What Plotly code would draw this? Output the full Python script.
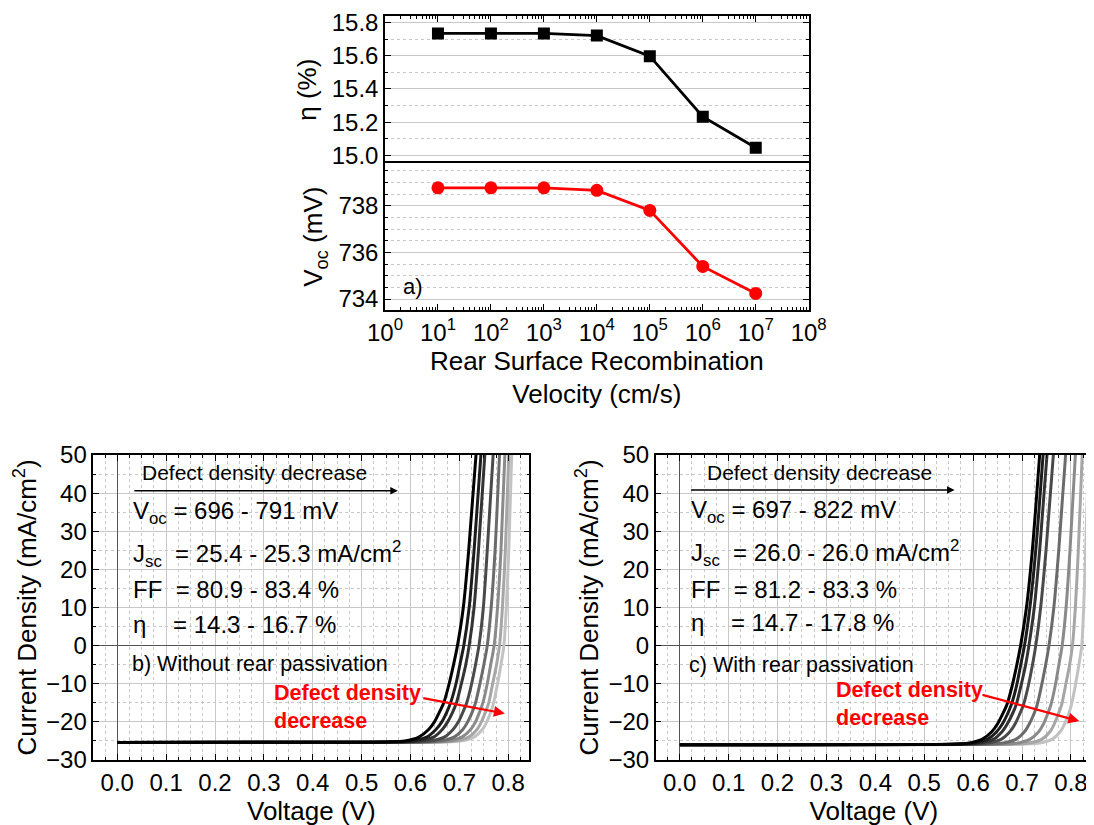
import plotly.graph_objects as go

# ---------------- panel a) data ----------------
S_RV_CMS = [1e1, 1e2, 1e3, 1e4, 1e5, 1e6, 1e7]
ETA_PCT = [15.735, 15.735, 15.735, 15.722, 15.598, 15.233, 15.046]
VOC_MV = [738.77, 738.77, 738.77, 738.66, 737.80, 735.40, 734.24]

LOG_TICKVALS = [1e0, 1e1, 1e2, 1e3, 1e4, 1e5, 1e6, 1e7, 1e8]
LOG_TICKTEXT = ["10<sup>0</sup>", "10<sup>1</sup>", "10<sup>2</sup>", "10<sup>3</sup>",
                "10<sup>4</sup>", "10<sup>5</sup>", "10<sup>6</sup>", "10<sup>7</sup>",
                "10<sup>8</sup>"]
ETA_TICKS = [15.0, 15.2, 15.4, 15.6, 15.8]
ETA_TICKTEXT = ["15.0", "15.2", "15.4", "15.6", "15.8"]
VOC_TICKS = [734, 736, 738]

# ---------------- panels b) and c) data ----------------
V_TICKS = [0.0, 0.1, 0.2, 0.3, 0.4, 0.5, 0.6, 0.7, 0.8]
V_TICKTEXT = ["0.0", "0.1", "0.2", "0.3", "0.4", "0.5", "0.6", "0.7", "0.8"]
J_TICKS = [-30, -20, -10, 0, 10, 20, 30, 40, 50]

# b) without rear passivation: current-density levels and the voltage of each curve at those levels
J_LEVELS_B = [-25.4, -25.35, -25.0, -24.0, -22.0, -20.0, -17.5, -15.0, -10.0, -5.0, 0.0, 10.0, 25.0, 50.0]
V_CURVES_B = [
    [0.0, 0.480, 0.588, 0.617, 0.637, 0.649, 0.659, 0.668, 0.679, 0.688, 0.696, 0.708, 0.719, 0.734],
    [0.0, 0.495, 0.604, 0.633, 0.652, 0.664, 0.674, 0.682, 0.693, 0.701, 0.709, 0.720, 0.730, 0.744],
    [0.0, 0.508, 0.617, 0.647, 0.665, 0.676, 0.686, 0.694, 0.704, 0.713, 0.720, 0.730, 0.739, 0.752],
    [0.0, 0.530, 0.640, 0.669, 0.687, 0.698, 0.707, 0.715, 0.725, 0.733, 0.740, 0.749, 0.757, 0.769],
    [0.0, 0.549, 0.660, 0.689, 0.707, 0.717, 0.726, 0.733, 0.742, 0.750, 0.757, 0.765, 0.773, 0.782],
    [0.0, 0.564, 0.677, 0.705, 0.723, 0.733, 0.741, 0.748, 0.757, 0.764, 0.771, 0.778, 0.785, 0.793],
    [0.0, 0.577, 0.690, 0.719, 0.736, 0.745, 0.753, 0.760, 0.768, 0.776, 0.782, 0.788, 0.794, 0.801],
    [0.0, 0.588, 0.702, 0.730, 0.747, 0.756, 0.764, 0.770, 0.778, 0.785, 0.791, 0.796, 0.801, 0.807],
]

# c) with rear passivation
J_LEVELS_C = [-26.0, -25.95, -25.6, -24.6, -22.6, -20.5, -18.0, -15.5, -10.4, -5.2, 0.0, 10.0, 25.0, 50.0]
V_CURVES_C = [
    [0.0, 0.481, 0.589, 0.618, 0.638, 0.650, 0.660, 0.669, 0.680, 0.689, 0.697, 0.709, 0.721, 0.736],
    [0.0, 0.491, 0.600, 0.629, 0.648, 0.660, 0.670, 0.678, 0.689, 0.697, 0.705, 0.716, 0.728, 0.743],
    [0.0, 0.502, 0.611, 0.641, 0.659, 0.670, 0.680, 0.688, 0.698, 0.707, 0.714, 0.725, 0.736, 0.751],
    [0.0, 0.518, 0.628, 0.657, 0.675, 0.686, 0.695, 0.703, 0.713, 0.721, 0.728, 0.738, 0.749, 0.764],
    [0.0, 0.547, 0.658, 0.687, 0.705, 0.715, 0.724, 0.731, 0.740, 0.748, 0.755, 0.765, 0.775, 0.789],
    [0.0, 0.575, 0.688, 0.716, 0.734, 0.744, 0.752, 0.759, 0.768, 0.775, 0.782, 0.790, 0.798, 0.809],
    [0.0, 0.598, 0.711, 0.740, 0.757, 0.766, 0.774, 0.781, 0.789, 0.797, 0.803, 0.809, 0.815, 0.823],
    [0.0, 0.619, 0.733, 0.761, 0.778, 0.787, 0.795, 0.801, 0.809, 0.816, 0.822, 0.826, 0.830, 0.836],
]

GRAYS = ["#000000", "#1c1c1c", "#333333", "#4a4a4a", "#6b6b6b", "#8a8a8a", "#a6a6a6", "#c2c2c2"]

FONT = "Liberation Sans, Arial, sans-serif"
GRID = "#c8c8c8"
RED = "#ff0000"

fig = go.Figure()

# panel a
fig.add_trace(go.Scatter(x=S_RV_CMS, y=ETA_PCT, mode="lines+markers", xaxis="x", yaxis="y",
                         line=dict(color="black", width=2.8),
                         marker=dict(symbol="square", size=12, color="black"),
                         showlegend=False))
fig.add_trace(go.Scatter(x=S_RV_CMS, y=VOC_MV, mode="lines+markers", xaxis="x2", yaxis="y2",
                         line=dict(color=RED, width=2.8),
                         marker=dict(symbol="circle", size=13, color=RED),
                         showlegend=False))

# panels b, c (lightest first so the black curve ends on top)
for vlist, col in reversed(list(zip(V_CURVES_B, GRAYS))):
    fig.add_trace(go.Scatter(x=vlist, y=J_LEVELS_B, mode="lines", xaxis="x3", yaxis="y3",
                             line=dict(color=col, width=3, shape="spline", smoothing=0.7),
                             showlegend=False))
for vlist, col in reversed(list(zip(V_CURVES_C, GRAYS))):
    fig.add_trace(go.Scatter(x=vlist, y=J_LEVELS_C, mode="lines", xaxis="x4", yaxis="y4",
                             line=dict(color=col, width=3, shape="spline", smoothing=0.7),
                             showlegend=False))

W, H = 1094, 825
PAGE_OFFSET = 8  # the page's default body margin shifts the figure by this many pixels
def px(xp):
    return (xp - PAGE_OFFSET) / W
def py(yp):
    return 1 - (yp - PAGE_OFFSET) / H

XA_DOM = [px(385), px(808.7)]
ETA_DOM = [py(163.3), py(16)]
VOC_DOM = [py(310), py(163.3)]
B_XDOM = [px(93.3), px(529.3)]
C_XDOM = [px(655.7), px(1092)]
BC_YDOM = [py(760), py(455)]

tickfont_a = dict(family=FONT, size=24, color="black")
tickfont_bc = dict(family=FONT, size=24, color="black")
titlefont_a = dict(family=FONT, size=26, color="black")
titlefont_bc = dict(family=FONT, size=26, color="black")

log_common = dict(type="log", range=[0, 8], tickmode="array", tickvals=LOG_TICKVALS,
                  ticks="inside", ticklen=6, tickwidth=1.2, tickcolor="black",
                  showline=True, linecolor="black", linewidth=1.5, showgrid=False,
                  zeroline=False, automargin=False,
                  minor=dict(ticks="inside", ticklen=3, tickcolor="black", dtick="D1", showgrid=False))

fig.update_layout(
    width=W, height=H, margin=dict(l=0, r=0, t=0, b=0, autoexpand=False),
    paper_bgcolor="white", plot_bgcolor="white",
    font=dict(family=FONT, color="black", size=24),
    xaxis=dict(domain=XA_DOM, anchor="y", side="top", showticklabels=False, mirror=False,
               tickfont=tickfont_a, **log_common),
    xaxis2=dict(domain=XA_DOM, anchor="y2", ticktext=LOG_TICKTEXT, tickfont=tickfont_a, mirror=True,
                title=dict(text="Rear Surface Recombination<br>Velocity (cm/s)", font=titlefont_a, standoff=6),
                **log_common),
    yaxis=dict(domain=ETA_DOM, anchor="x", range=[14.952, 15.84], tickmode="array",
               tickvals=ETA_TICKS, ticktext=ETA_TICKTEXT, tickfont=tickfont_a, automargin=False,
               ticks="inside", ticklen=6, tickcolor="black", showline=True, linecolor="black",
               linewidth=1.5, mirror="ticks", showgrid=True, gridcolor=GRID, gridwidth=1, zeroline=False,
               minor=dict(dtick=0.1, tick0=15.0, ticks="inside", ticklen=3, tickcolor="black",
                          showgrid=True, gridcolor=GRID, griddash="dot", gridwidth=1),
               title=dict(text="η (%)", font=titlefont_a, standoff=8)),
    yaxis2=dict(domain=VOC_DOM, anchor="x2", range=[733.53, 739.82], tickmode="array",
                tickvals=VOC_TICKS, tickfont=tickfont_a, automargin=False,
                ticks="inside", ticklen=6, tickcolor="black", showline=True, linecolor="black",
                linewidth=1.5, mirror="ticks", showgrid=True, gridcolor=GRID, gridwidth=1, zeroline=False,
                minor=dict(dtick=0.5, tick0=734, ticks="inside", ticklen=3, tickcolor="black",
                           showgrid=True, gridcolor=GRID, griddash="dot", gridwidth=1),
                title=dict(text="V<sub>oc</sub> (mV)", font=titlefont_a, standoff=8)),
)

def jv_axes(xdom, xname, yname):
    xa = dict(domain=xdom, anchor=yname, range=[-0.049, 0.843], tickmode="array",
              tickvals=V_TICKS, ticktext=V_TICKTEXT, tickfont=tickfont_bc, automargin=False,
              ticks="inside", ticklen=6, tickcolor="black", showline=True, linecolor="black",
              linewidth=1.5, mirror="ticks", showgrid=True, gridcolor=GRID, gridwidth=1,
              zeroline=True, zerolinecolor="#555555", zerolinewidth=1.3,
              minor=dict(dtick=0.025, tick0=0, ticks="inside", ticklen=3, tickcolor="black",
                         showgrid=True, gridcolor=GRID, griddash="dot", gridwidth=1),
              title=dict(text="Voltage (V)", font=titlefont_bc, standoff=2))
    ya = dict(domain=BC_YDOM, anchor=xname, range=[-30, 50], tickmode="array",
              tickvals=J_TICKS, tickfont=tickfont_bc, automargin=False,
              ticks="inside", ticklen=6, tickcolor="black", showline=True, linecolor="black",
              linewidth=1.5, mirror="ticks", showgrid=True, gridcolor=GRID, gridwidth=1,
              zeroline=True, zerolinecolor="#555555", zerolinewidth=1.3,
              minor=dict(dtick=5, tick0=0, ticks="inside", ticklen=3, tickcolor="black",
                         showgrid=True, gridcolor=GRID, griddash="dot", gridwidth=1),
              title=dict(text="Current Density (mA/cm<sup>2</sup>)", font=titlefont_bc, standoff=2))
    return xa, ya

xa3, ya3 = jv_axes(B_XDOM, "x3", "y3")
xa4, ya4 = jv_axes(C_XDOM, "x4", "y4")
fig.update_layout(xaxis3=xa3, yaxis3=ya3, xaxis4=xa4, yaxis4=ya4)

NB = "\u00a0"
ann = []
def txt(xref, yref, x, y, text, size, color="black", bold=False, anchor="left"):
    if bold:
        text = "<b>" + text + "</b>"
    ann.append(dict(xref=xref, yref=yref, x=x, y=y, text=text, showarrow=False,
                    xanchor=anchor, yanchor="middle", align="left",
                    font=dict(family=FONT, size=size, color=color)))

# panel a label
txt("paper", "paper", px(401), py(287), "a)", 22)

# panel b texts
txt("x3", "y3", 0.046, 45.5, "Defect density decrease", 21)
txt("x3", "y3", 0.028, 34.8, "V<sub>oc</sub> = 696 - 791 mV", 24)
txt("x3", "y3", 0.028, 24.0, "J<sub>sc</sub>" + NB * 2 + "= 25.4 - 25.3 mA/cm<sup>2</sup>", 24)
txt("x3", "y3", 0.028, 14.7, "FF" + NB * 2 + "= 80.9 - 83.4 %", 24)
txt("x3", "y3", 0.028, 5.5, "η" + NB * 4 + "= 14.3 - 16.7 %", 24)
txt("x3", "y3", 0.026, -4.7, "b) Without rear passivation", 21.5)
txt("x3", "y3", 0.3165, -16.2, "Defect density<br>decrease", 21.5, color=RED, bold=True)

# panel c texts
txt("x4", "y4", 0.051, 45.5, "Defect density decrease", 21)
txt("x4", "y4", 0.019, 35.3, "V<sub>oc</sub> = 697 - 822 mV", 24)
txt("x4", "y4", 0.019, 24.3, "J<sub>sc</sub>" + NB * 2 + "= 26.0 - 26.0 mA/cm<sup>2</sup>", 24)
txt("x4", "y4", 0.019, 14.7, "FF" + NB * 2 + "= 81.2 - 83.3 %", 24)
txt("x4", "y4", 0.019, 6.0, "η" + NB * 4 + "= 14.7 - 17.8 %", 24)
txt("x4", "y4", 0.016, -5.2, "c) With rear passivation", 21.5)
txt("x4", "y4", 0.316, -15.2, "Defect density<br>decrease", 21.5, color=RED, bold=True)

def arrow(xref, yref, x0, y0, x1, y1, color, width):
    ann.append(dict(xref=xref, yref=yref, axref=xref, ayref=yref, x=x1, y=y1, ax=x0, ay=y0,
                    text="", showarrow=True, arrowhead=2, arrowsize=1.0, arrowwidth=width,
                    arrowcolor=color, standoff=0, startstandoff=0))

arrow("x3", "y3", 0.032, 40.6, 0.574, 40.6, "black", 1.5)
arrow("x4", "y4", 0.020, 40.8, 0.562, 40.8, "black", 1.5)
arrow("x3", "y3", 0.623, -13.7, 0.793, -17.8, RED, 2.2)
arrow("x4", "y4", 0.616, -12.8, 0.817, -19.8, RED, 2.2)

fig.update_layout(annotations=ann)

fig.write_html("out.html")
